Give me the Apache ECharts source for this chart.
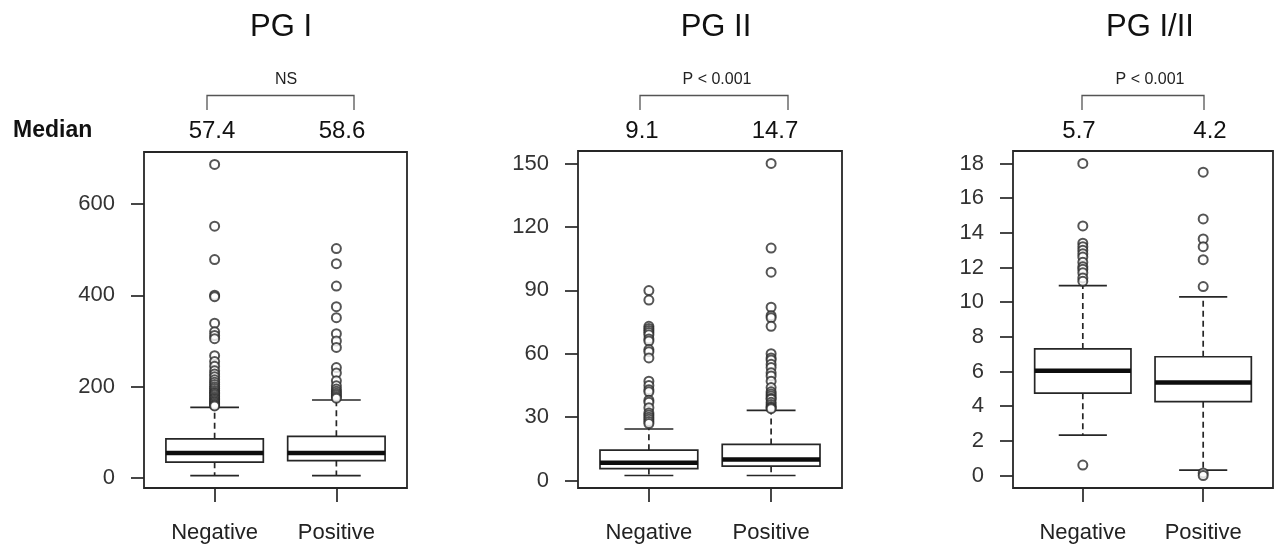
<!DOCTYPE html>
<html>
<head>
<meta charset="utf-8">
<script src="https://cdn.jsdelivr.net/npm/echarts@6/dist/echarts.min.js"></script>
<style>html,body{margin:0;padding:0;background:#fff;}#c{width:1275px;height:547px;}</style>
</head>
<body>
<div id="c"></div>
<script>
// ---------- data ----------
const categories = ['Negative', 'Positive'];
const panelTitles = ['PG I', 'PG II', 'PG I/II'];
const pLabels = ['NS', 'P < 0.001', 'P < 0.001'];
const medianLabels = [['57.4', '58.6'], ['9.1', '14.7'], ['5.7', '4.2']];

// box stats: [lowerWhisker, Q1, median, Q3, upperWhisker] for Negative, Positive
const pg1Box = [[5.8, 35, 55, 86, 155], [5.8, 38.5, 55, 91.6, 171]];
const pg2Box = [[2.4, 5.7, 8.4, 14.4, 24.4], [2.4, 6.8, 10, 17.1, 33.2]];
const pg3Box = [[2.33, 4.75, 6.04, 7.3, 10.95], [0.31, 4.26, 5.36, 6.85, 10.3]];

const pg1OutNeg = [686, 551, 478, 400, 397, 339, 320, 312, 305, 268, 255, 245, 235, 228, 222, 215, 210, 205, 200, 196, 192, 188, 185, 182, 178, 175, 172, 169, 166, 163, 160, 158];
const pg1OutPos = [502, 469, 420, 375, 351, 316, 300, 286, 242, 230, 213, 202, 195, 190, 186, 182, 178, 175];
const pg2OutNeg = [89.9, 85.4, 73, 72, 71, 70, 69, 67, 66, 62, 61, 58, 47, 45, 43, 42, 38, 37, 34.5, 32, 31, 30, 29, 28, 27];
const pg2OutPos = [150, 110, 98.6, 82, 78, 77, 73, 60, 58, 57, 55, 53.5, 51, 49.5, 47, 44, 42, 41, 40, 39, 38.5, 37, 36, 35, 34.5, 34];
const pg3OutNeg = [18.0, 14.4, 13.4, 13.2, 13.0, 12.8, 12.6, 12.3, 12.05, 11.9, 11.7, 11.4, 11.2, 0.6];
const pg3OutPos = [17.5, 14.8, 13.65, 13.2, 12.45, 10.9, 0.15, 0];

const pg1Ticks = [0, 200, 400, 600];
const pg2Ticks = [0, 30, 60, 90, 120, 150];
const pg3Ticks = [0, 2, 4, 6, 8, 10, 12, 14, 16, 18];

// ---------- layout / style ----------
const FONT = '"Liberation Sans", Arial, Helvetica, sans-serif';
const LINE = '#262626';
const panels = [
  {box: pg1Box, outs: [pg1OutNeg, pg1OutPos], ticks: pg1Ticks, left: 144, top: 152, width: 263, height: 336,
   titleX: 281, medX: [212, 342], bracket: [207, 354], pX: 286},
  {box: pg2Box, outs: [pg2OutNeg, pg2OutPos], ticks: pg2Ticks, left: 578, top: 151, width: 264, height: 337,
   titleX: 716, medX: [642, 775], bracket: [640, 788], pX: 717},
  {box: pg3Box, outs: [pg3OutNeg, pg3OutPos], ticks: pg3Ticks, left: 1013, top: 151, width: 260, height: 337,
   titleX: 1150, medX: [1079, 1210], bracket: [1082, 1204], pX: 1150}
];

function rRange(p) {
  let all = [];
  p.box.forEach(b => all = all.concat(b));
  p.outs.forEach(o => all = all.concat(o));
  const mn = Math.min.apply(null, all), mx = Math.max.apply(null, all);
  const ext = (mx - mn) * 0.04;
  return [mn - ext, mx + ext];
}

function renderBox(params, api) {
  const x = api.value(0);
  const lo = api.value(1), q1 = api.value(2), md = api.value(3), q3 = api.value(4), hi = api.value(5);
  const a = api.coord([x - 0.4, q3]);
  const b = api.coord([x + 0.4, q1]);
  const cx = api.coord([x, md])[0];
  const yMed = api.coord([x, md])[1];
  const yLo = api.coord([x, lo])[1];
  const yHi = api.coord([x, hi])[1];
  const s0 = api.coord([x - 0.2, lo])[0];
  const s1 = api.coord([x + 0.2, lo])[0];
  const dashed = {stroke: LINE, lineWidth: 1.7, lineDash: [6, 4], fill: null};
  const solid = {stroke: LINE, lineWidth: 1.7, fill: null};
  return {
    type: 'group',
    children: [
      {type: 'line', shape: {x1: cx, y1: a[1], x2: cx, y2: yHi}, style: dashed},
      {type: 'line', shape: {x1: cx, y1: b[1], x2: cx, y2: yLo}, style: dashed},
      {type: 'line', shape: {x1: s0, y1: yHi, x2: s1, y2: yHi}, style: solid},
      {type: 'line', shape: {x1: s0, y1: yLo, x2: s1, y2: yLo}, style: solid},
      {type: 'rect', shape: {x: a[0], y: a[1], width: b[0] - a[0], height: b[1] - a[1]},
       style: {stroke: LINE, lineWidth: 1.7, fill: '#fff'}},
      {type: 'line', shape: {x1: a[0], y1: yMed, x2: b[0], y2: yMed}, style: {stroke: '#0d0d0d', lineWidth: 4.5}}
    ]
  };
}

const grids = [], xAxes = [], yAxes = [], series = [], graphics = [];
panels.forEach((p, i) => {
  const rng = rRange(p);
  grids.push({left: p.left, top: p.top, width: p.width, height: p.height, show: true,
    borderColor: LINE, borderWidth: 1.8, backgroundColor: 'transparent', containLabel: false});
  xAxes.push({gridIndex: i, type: 'value', min: 0.42, max: 2.58, position: 'bottom',
    axisLine: {show: false, onZero: false}, splitLine: {show: false},
    axisTick: {show: true, length: 14, customValues: [1, 2], lineStyle: {color: LINE, width: 1.7}},
    axisLabel: {show: true, customValues: [1, 2], formatter: v => categories[Math.round(v) - 1],
      fontFamily: FONT, fontSize: 22, color: '#222', margin: 34}});
  yAxes.push({gridIndex: i, type: 'value', min: rng[0], max: rng[1], position: 'left',
    axisLine: {show: false, onZero: false}, splitLine: {show: false},
    axisTick: {show: true, length: 13, customValues: p.ticks, lineStyle: {color: LINE, width: 1.7}},
    axisLabel: {show: true, customValues: p.ticks, fontFamily: FONT, fontSize: 22, color: '#333', margin: 29}});
  series.push({type: 'custom', xAxisIndex: i, yAxisIndex: i, renderItem: renderBox,
    encode: {x: 0, y: [1, 2, 3, 4, 5]}, z: 2,
    data: p.box.map((b, k) => [k + 1].concat(b))});
  const pts = [];
  p.outs.forEach((o, k) => o.forEach(v => pts.push([k + 1, v])));
  series.push({type: 'scatter', xAxisIndex: i, yAxisIndex: i, symbol: 'emptyCircle', symbolSize: 9, z: 3,
    itemStyle: {color: '#2b2b2b', borderColor: '#2b2b2b', borderWidth: 1.5}, data: pts});

  graphics.push({type: 'text', x: p.titleX, y: 27, style: {text: panelTitles[i], font: '31px ' + FONT,
    fill: '#111', align: 'center', verticalAlign: 'middle'}});
  graphics.push({type: 'text', x: p.pX, y: 80, style: {text: pLabels[i], font: '16px ' + FONT,
    fill: '#222', align: 'center', verticalAlign: 'middle'}});
  graphics.push({type: 'polyline', shape: {points: [[p.bracket[0], 110], [p.bracket[0], 95.5], [p.bracket[1], 95.5], [p.bracket[1], 110]]},
    style: {stroke: '#555', lineWidth: 1.3, fill: null}});
  medianLabels[i].forEach((t, k) => graphics.push({type: 'text', x: p.medX[k], y: 131,
    style: {text: t, font: '24px ' + FONT, fill: '#111', align: 'center', verticalAlign: 'middle'}}));
});
graphics.push({type: 'text', x: 13, y: 131, style: {text: 'Median', font: 'bold 23px ' + FONT,
  fill: '#111', align: 'left', verticalAlign: 'middle'}});

const chart = echarts.init(document.getElementById('c'), null, {renderer: 'canvas'});
chart.setOption({
  animation: false,
  backgroundColor: '#fff',
  grid: grids, xAxis: xAxes, yAxis: yAxes, series: series, graphic: graphics
});
</script>
</body>
</html>
